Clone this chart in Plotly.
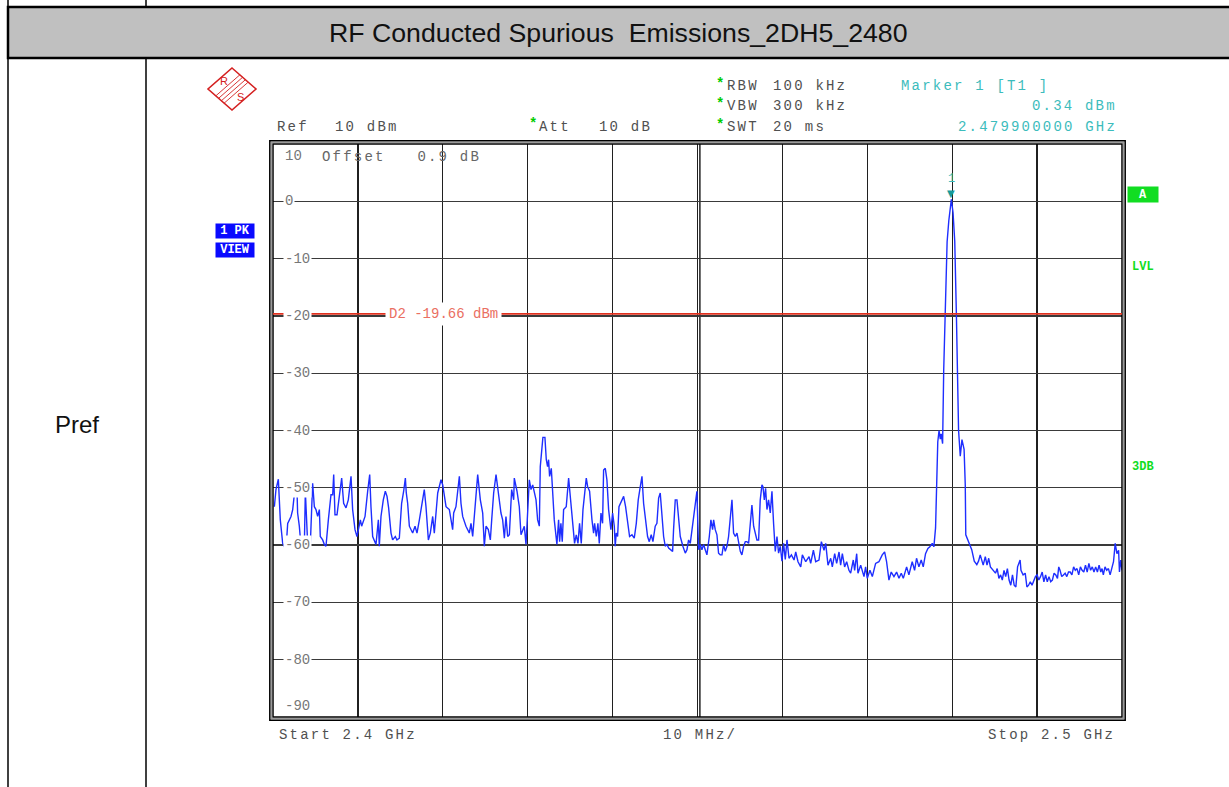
import numpy as np
import plotly.graph_objects as go

# ---------------- data ----------------
# frequency offsets from the start frequency (MHz) and trace levels (dBm)
SEG_A_FREQ = [
    0.16, 0.35, 0.63, 0.86, 1.14, 1.53, 1.73, 2.12, 2.32, 2.51,
    2.83, 2.90, 3.10, 3.30, 3.49, 3.69, 3.81, 4.08, 4.40, 4.67,
    4.87, 5.06, 5.26, 5.46, 5.57, 5.85, 6.05, 6.24, 6.52, 6.83,
    7.03, 7.15, 7.30, 7.54, 7.81, 8.09, 8.32, 8.60, 8.87, 9.19,
    9.38, 9.66, 9.89, 10.05, 10.29, 10.44, 10.68, 10.84, 11.15, 11.39,
    11.54, 11.74, 12.13, 12.41, 12.52, 12.72, 12.99, 13.23, 13.43, 13.62,
    13.90, 14.09, 14.41, 14.60, 14.88, 15.15, 15.39, 15.59, 15.70, 15.86,
    16.06, 16.45, 16.73, 16.96, 17.24, 17.51, 17.82, 18.02, 18.30, 18.53,
    18.81, 19.00, 19.20, 19.40, 19.79, 19.99, 20.38, 20.77, 20.97, 21.16,
    21.28, 21.55, 21.95, 22.14, 22.34, 22.73, 23.12, 23.32, 23.52, 23.79,
    24.11, 24.42, 24.70, 24.89, 25.09, 25.36, 25.60, 25.76, 25.99, 26.27,
    26.58, 26.85, 27.05, 27.25, 27.44, 27.64, 27.84, 28.11, 28.35, 28.42,
    28.74, 29.01, 29.21, 29.41, 29.60, 29.80, 30.00, 30.19, 30.39, 30.59,
    30.98, 31.17, 31.37,
]
SEG_A_LEVEL = [
    -53.3, -50.3, -48.5, -55.6, -59.7, -60.8, -56.2, -55.0, -53.8, -51.2,
    -50.6, -54.4, -56.7, -60.2, -60.5, -60.2, -50.6, -59.7, -59.7, -49.2,
    -53.3, -53.8, -55.0, -53.8, -58.5, -59.1, -59.9, -60.2, -55.6, -51.2,
    -51.2, -47.7, -54.7, -54.7, -51.5, -48.3, -52.7, -53.5, -52.1, -48.0,
    -53.8, -57.3, -58.5, -57.3, -55.6, -56.7, -55.6, -55.0, -50.6, -47.7,
    -53.3, -58.5, -59.9, -55.6, -60.2, -55.0, -52.1, -50.6, -51.5, -53.5,
    -57.9, -59.1, -58.5, -59.1, -58.8, -52.7, -50.6, -48.3, -50.9, -52.7,
    -56.7, -57.9, -56.7, -57.9, -55.6, -52.7, -50.3, -53.3, -59.1, -57.9,
    -55.0, -57.9, -53.8, -50.9, -48.6, -49.5, -53.3, -53.8, -55.6, -57.3,
    -54.4, -53.3, -48.0, -52.7, -55.0, -56.7, -57.9, -56.2, -58.5, -53.3,
    -47.7, -52.1, -54.4, -60.2, -56.7, -57.3, -59.1, -55.6, -50.9, -47.7,
    -51.5, -54.4, -55.6, -58.8, -55.0, -58.5, -58.2, -50.3, -52.1, -48.3,
    -50.6, -53.3, -58.2, -57.3, -56.7, -59.9, -53.3, -48.6, -50.3, -49.5,
    -52.1, -55.6, -56.7,
]
SEG_B_FREQ = [
    31.48, 31.79, 32.03, 32.19, 32.34, 32.46, 32.58, 32.78, 32.89, 33.13,
    33.44, 33.64, 33.76, 33.91, 34.07, 34.23, 34.54, 34.82, 35.09, 35.33,
    35.52, 35.72, 35.92, 36.11, 36.31, 36.51, 36.70, 36.90, 37.06, 37.29,
    37.57, 37.76, 37.88, 38.08, 38.27, 38.43, 38.63, 38.82, 38.94, 39.14,
    39.33, 39.53, 39.80, 40.00, 40.20, 40.31, 40.43, 40.59, 40.75, 40.98,
    41.30, 41.53, 41.77, 42.00, 42.28, 42.55, 42.79, 43.02, 43.26, 43.46,
    43.65, 43.89, 44.12, 44.32, 44.55, 44.75, 45.02, 45.22, 45.42, 45.61,
    45.81, 46.01, 46.20, 46.40, 46.60, 46.87, 47.07, 47.18, 47.38, 47.58,
    47.77, 47.97, 48.28, 48.56, 48.76, 48.95, 49.15, 49.34, 49.54, 49.74,
    49.93, 50.13, 50.33, 50.52, 50.72, 50.91, 51.11, 51.39, 51.58, 51.78,
    51.90, 52.09, 52.29, 52.48, 52.68, 52.88, 53.07, 53.27, 53.47, 53.66,
    53.86, 54.06, 54.25, 54.45, 54.65, 54.84, 55.04, 55.23, 55.43, 55.63,
    55.82, 56.02, 56.22, 56.41, 56.61, 56.80, 57.00, 57.20, 57.39, 57.59,
    57.71, 57.87, 58.02, 58.18, 58.37, 58.57, 58.77, 58.96, 59.16, 59.36,
    59.55, 59.75, 59.95, 60.14, 60.34, 60.54,
]
SEG_B_LEVEL = [
    -46.3, -41.2, -41.2, -45.1, -46.3, -45.1, -48.0, -46.6, -49.8, -55.6,
    -59.9, -55.6, -59.4, -56.2, -59.4, -53.8, -53.3, -48.3, -52.7, -56.2,
    -59.7, -58.2, -59.7, -56.2, -59.7, -53.8, -50.6, -48.3, -49.8, -50.6,
    -55.6, -57.9, -56.2, -58.5, -56.2, -59.7, -54.4, -56.2, -46.9, -46.6,
    -48.6, -53.8, -57.3, -54.4, -56.7, -60.2, -57.9, -58.5, -53.3, -52.4,
    -51.5, -53.3, -56.2, -58.5, -58.2, -58.8, -56.2, -52.1, -49.8, -48.0,
    -52.7, -55.6, -58.5, -59.4, -58.2, -59.4, -56.7, -56.2, -51.8, -50.9,
    -55.6, -58.5, -60.2, -59.9, -60.5, -60.8, -61.1, -57.3, -52.1, -52.1,
    -55.6, -58.5, -60.2, -61.4, -60.8, -59.1, -59.7, -57.3, -54.4, -52.1,
    -50.6, -60.8, -59.9, -60.8, -59.9, -60.8, -61.7, -58.5, -55.6, -57.3,
    -55.6, -57.3, -58.2, -61.4, -61.7, -61.7, -59.9, -61.1, -60.2, -58.5,
    -55.6, -52.1, -57.9, -58.5, -57.9, -59.7, -61.1, -61.7, -60.2, -59.4,
    -59.4, -59.7, -56.7, -53.0, -56.7, -58.2, -59.1, -59.1, -52.1, -49.5,
    -49.8, -52.1, -50.1, -53.8, -52.1, -54.4, -50.6, -56.2, -61.1, -58.5,
    -61.4, -60.2, -62.8, -59.7, -62.5, -59.1,
]
SEG_C_FREQ = [
    60.78, 61.06, 61.37, 61.57, 61.84, 62.16, 62.35, 62.75, 63.14, 63.33,
    63.65, 63.92, 64.31, 64.59, 64.90, 65.10, 65.37, 65.69, 65.88, 66.16,
    66.39, 66.67, 66.86, 67.06, 67.33, 67.57, 67.84, 68.04, 68.35, 68.51,
    68.75, 68.90, 69.22, 69.61, 69.80, 70.00, 70.31, 70.59, 70.98, 71.37,
    71.76, 72.04, 72.27, 72.55, 72.82, 73.14, 73.45, 73.73, 74.00, 74.24,
    74.63, 74.90, 75.29, 75.57, 75.80, 76.08, 76.35, 76.59, 76.86, 77.14,
    77.37, 77.65, 77.84, 78.04,
]
SEG_C_LEVEL = [
    -62.3, -61.7, -62.6, -61.2, -62.9, -63.8, -61.7, -62.9, -62.0, -63.2,
    -60.9, -62.9, -62.6, -59.4, -60.9, -59.7, -63.5, -62.3, -63.8, -61.5,
    -63.2, -61.2, -63.5, -61.5, -63.8, -62.9, -64.4, -64.9, -62.6, -64.4,
    -61.5, -64.9, -63.5, -65.5, -63.8, -65.8, -64.4, -65.5, -63.2, -62.9,
    -61.7, -61.2, -62.9, -66.1, -64.7, -65.5, -64.7, -65.8, -64.9, -65.8,
    -63.8, -65.2, -62.9, -64.4, -62.3, -63.8, -62.6, -63.8, -61.5, -60.6,
    -60.3, -59.7, -60.3, -57.0,
]
SEG_D_FREQ = [
    78.20, 78.30, 78.45, 78.60, 78.70, 78.87, 79.00, 79.20, 79.40, 79.60,
    79.90, 80.10, 80.30, 80.50, 80.65, 80.75, 80.95, 81.15, 81.40, 81.54,
    81.60, 81.90, 82.30, 82.60,
]
SEG_D_LEVEL = [
    -50.1, -42.0, -40.0, -41.5, -40.6, -42.3, -29.5, -16.1, -7.1, -3.4,
    0.34, -2.0, -7.0, -20.2, -29.5, -40.0, -44.5, -41.6, -43.3, -49.5,
    -58.2, -59.3, -60.8, -62.8,
]
SEG_E_FREQ = [
    82.90, 83.10, 83.30, 83.65, 83.90, 84.10, 84.30, 84.50, 84.80, 85.10,
    85.30, 85.50, 85.70, 85.90, 86.10, 86.30, 86.50, 86.70, 86.90, 87.10,
    87.30, 87.50, 87.70, 88.00, 88.10, 88.35, 88.60, 88.80, 89.00, 89.20,
    89.40, 89.60, 89.80, 90.00, 90.20, 90.40, 90.60, 90.80, 91.00, 91.20,
    91.40, 91.60, 91.80, 92.00, 92.20, 92.40, 92.55, 92.70, 92.90, 93.10,
    93.30, 93.50, 93.70, 93.90, 94.10, 94.30, 94.50, 94.70, 94.90, 95.10,
    95.30, 95.50, 95.70, 95.90, 96.10, 96.30, 96.50, 96.70, 96.90, 97.10,
    97.30, 97.50, 97.65, 97.80, 98.00, 98.20, 98.40, 98.60, 98.80, 99.00,
    99.20, 99.40, 99.60, 99.70, 99.85, 100.00,
]
SEG_E_LEVEL = [
    -63.4, -62.8, -61.7, -63.5, -62.0, -63.5, -62.3, -63.8, -64.4, -64.9,
    -64.1, -65.8, -65.2, -66.1, -64.4, -65.5, -64.1, -66.1, -67.0, -65.2,
    -67.0, -67.3, -63.8, -62.6, -64.4, -65.2, -64.9, -67.3, -67.0, -66.4,
    -67.0, -66.1, -65.5, -65.2, -66.1, -65.5, -64.7, -66.4, -65.2, -66.4,
    -65.5, -66.4, -66.1, -64.9, -65.2, -65.8, -63.8, -64.4, -65.5, -65.2,
    -64.9, -65.5, -64.7, -64.7, -65.2, -63.8, -64.4, -64.1, -65.2, -63.8,
    -64.4, -64.7, -63.5, -64.7, -63.2, -64.4, -63.8, -64.7, -63.8, -64.7,
    -63.5, -64.7, -64.1, -65.2, -63.8, -64.4, -64.1, -65.2, -63.8, -62.9,
    -59.7, -61.5, -60.9, -64.7, -62.6, -64.4,
]

START_GHZ = 2.4
STOP_GHZ = 2.5
REF_LEVEL_DBM = 10
BOTTOM_LEVEL_DBM = -90
Y_TICK_VALUES = [10, 0, -10, -20, -30, -40, -50, -60, -70, -80, -90]
Y_TICK_LABELS = ["10", "0", "-10", "-20", "-30", "-40", "-50", "-60", "-70", "-80", "-90"]
D2_LEVEL_DBM = -19.66
MARKER_FREQ_GHZ = 2.4799
MARKER_LEVEL_DBM = 0.34

TITLE = "RF Conducted Spurious\u00a0 Emissions_2DH5_2480"

# ---------------- layout helpers ----------------
W, H = 1229, 787
L, R, T, B = 273, 1122, 144, 717
MONO = "Liberation Mono, Courier New, monospace"
SANS = "Liberation Sans, Arial, sans-serif"
GRAY_TXT = "#505050"
TICK_TXT = "#777777"
TEAL = "#3cbcbc"
GREEN = "#11dd22"


def px(x):
    return (x - L) / (R - L)


def py(y):
    return (B - y) / (B - T)


annotations = []
shapes = []


def text(x, y, s, color, size=14, anchor="left", family=MONO, spacing=None,
         bold=False, bg=None, xref="paper", yref="paper", yshift=0,
         width=None, height=None, borderpad=1):
    t = s.replace(" ", "\u00a0")
    if bold:
        t = "<b>" + t + "</b>"
    if spacing:
        t = '<span style="letter-spacing:%.1fpx">%s</span>' % (spacing, t)
    a = dict(x=x, y=y, xref=xref, yref=yref, text=t, showarrow=False,
             xanchor=anchor, yanchor="middle",
             font=dict(family=family, size=size, color=color),
             yshift=yshift, borderpad=borderpad)
    if bg:
        a["bgcolor"] = bg
    if width:
        a["width"] = width
    if height:
        a["height"] = height
    annotations.append(a)


def hdr(xp, yp, s, color=GRAY_TXT, anchor="left"):
    text(px(xp), py(yp), s, color, size=14, anchor=anchor, spacing=2.2)


def star(xp, yp):
    text(px(xp), py(yp), "*", "#00cc00", size=14, bold=True)


def seg(x0, y0, x1, y1, color="black", width=1.5, layer="above"):
    shapes.append(dict(type="line", xref="paper", yref="paper",
                       x0=px(x0), y0=py(y0), x1=px(x1), y1=py(y1),
                       line=dict(color=color, width=width), layer=layer))


# ---------------- figure ----------------
freq_ghz = START_GHZ + np.array(SEG_A_FREQ + SEG_B_FREQ + SEG_C_FREQ + SEG_D_FREQ + SEG_E_FREQ) / 1000.0
level = np.array(SEG_A_LEVEL + SEG_B_LEVEL + SEG_C_LEVEL + SEG_D_LEVEL + SEG_E_LEVEL)

fig = go.Figure()
fig.add_trace(go.Scatter(x=freq_ghz, y=level, mode="lines",
                         line=dict(color="#1e2eff", width=1.4),
                         hoverinfo="skip"))

# table decoration: title bar, borders
shapes.append(dict(type="rect", xref="paper", yref="paper",
                   x0=px(8), x1=px(1240), y0=py(7), y1=py(58),
                   fillcolor="#c0c0c0", line=dict(color="black", width=2.5),
                   layer="below"))
seg(8, 0, 8, 787, width=1.5)
seg(146, 0, 146, 7, width=1.5)
seg(146, 58, 146, 787, width=1.5)
text(px(618.5), py(33), TITLE, "#111111", size=26.7, anchor="center", family=SANS)
text(px(77), py(424), "Pref", "#111111", size=24, anchor="center", family=SANS)

# plot frame (double line)
dx, dy = 1.0 / (R - L), 1.0 / (B - T)
for off, col, wd in [(0, "black", 1.5), (1.6, "#9a9a9a", 1.4), (3.2, "black", 1.5)]:
    shapes.append(dict(type="rect", xref="paper", yref="paper",
                       x0=-off * dx, x1=1 + off * dx, y0=-off * dy, y1=1 + off * dy,
                       line=dict(color=col, width=wd), layer="above"))
# doubled centre line
shapes.append(dict(type="line", xref="paper", yref="paper",
                   x0=0.5 + 2.4 * dx, x1=0.5 + 2.4 * dx, y0=0, y1=1,
                   line=dict(color="black", width=1.3), layer="below"))

# display line D2
shapes.append(dict(type="line", xref="paper", yref="y", x0=0, x1=1,
                   y0=D2_LEVEL_DBM, y1=D2_LEVEL_DBM,
                   line=dict(color="#e0301e", width=1.8), layer="above"))
text(px(385), D2_LEVEL_DBM, "D2 -%.2f dBm" % abs(D2_LEVEL_DBM), "#ea6f62",
     size=14, bg="white", yref="y", borderpad=3)

# y tick labels inside the grid
for v, lab in zip(Y_TICK_VALUES, Y_TICK_LABELS):
    shift = -12 if v == REF_LEVEL_DBM else (11 if v == BOTTOM_LEVEL_DBM else 0)
    text(px(283), v, lab, TICK_TXT, size=14, yref="y", yshift=shift,
         bg=None if v in (REF_LEVEL_DBM, BOTTOM_LEVEL_DBM) else "white")

# header texts
hdr(320, 157, "Offset   0.9 dB", color="#666666")
hdr(275, 127, "Ref")
hdr(333, 127, "10 dBm")
star(527, 124)
hdr(537, 127, "Att")
hdr(597, 127, "10 dB")
star(714, 84)
hdr(725, 86, "RBW")
hdr(771, 86, "100 kHz")
star(714, 104)
hdr(725, 106, "VBW")
hdr(771, 106, "300 kHz")
star(714, 125)
hdr(725, 127, "SWT")
hdr(771, 127, "20 ms")
hdr(899, 86, "Marker 1 [T1 ]", color=TEAL)
hdr(1119, 106, "%.2f dBm" % MARKER_LEVEL_DBM, color=TEAL, anchor="right")
hdr(1119, 127, "%.9f GHz" % MARKER_FREQ_GHZ, color=TEAL, anchor="right")
hdr(277, 735, "Start %.1f GHz" % START_GHZ)
hdr(661, 735, "%d MHz/" % round((STOP_GHZ - START_GHZ) * 100))
hdr(1117, 735, "Stop %.1f GHz" % STOP_GHZ, anchor="right")

# side boxes
text(px(234.5), py(231), "1 PK", "white", size=12, anchor="center", bold=True,
     bg="#0a0aff", width=38, height=14, borderpad=0)
text(px(234.5), py(250), "VIEW", "white", size=12, anchor="center", bold=True,
     bg="#0a0aff", width=38, height=14, borderpad=0)
text(px(1142.5), py(194.5), "A", "white", size=12, anchor="center", bold=True,
     bg=GREEN, width=30, height=15, borderpad=0)
text(px(1143), py(267), "LVL", GREEN, size=12, anchor="center", bold=True)
text(px(1143), py(467), "3DB", GREEN, size=12, anchor="center", bold=True)

# marker
text(MARKER_FREQ_GHZ, MARKER_LEVEL_DBM, "\u25BC", "#169a9a", size=10, anchor="center",
     family="DejaVu Sans", xref="x", yref="y", yshift=6)
text(MARKER_FREQ_GHZ, MARKER_LEVEL_DBM, "1", TEAL, size=12, anchor="center",
     xref="x", yref="y", yshift=20)

# R&S logo
cx, cy, hw, hh = 232, 89, 24, 21
logo_red = "#d42020"
path = "M %f %f L %f %f L %f %f L %f %f Z" % (
    px(cx), py(cy - hh), px(cx + hw), py(cy), px(cx), py(cy + hh), px(cx - hw), py(cy))
shapes.append(dict(type="path", xref="paper", yref="paper", path=path,
                   line=dict(color=logo_red, width=1.6), layer="above"))
for k in (-3, -1, 1, 3):
    o = k * 1.3
    seg(cx - hw / 2 + o, cy + hh / 2 + o, cx + hw / 2 + o, cy - hh / 2 + o,
        color=logo_red, width=0.9)
text(px(cx - 8), py(cy - 8), "R", logo_red, size=11, anchor="center", family=SANS)
text(px(cx + 8), py(cy + 8), "S", logo_red, size=11, anchor="center", family=SANS)

fig.update_layout(
    width=W, height=H, autosize=False,
    margin=dict(l=L, r=W - R, t=T, b=H - B, pad=0),
    paper_bgcolor="white", plot_bgcolor="white",
    showlegend=False, hovermode=False,
    xaxis=dict(range=[START_GHZ, STOP_GHZ], tick0=START_GHZ, dtick=0.01,
               showgrid=True, gridcolor="#202020", gridwidth=1.3,
               showticklabels=False, ticks="", zeroline=False, showline=False,
               fixedrange=True),
    yaxis=dict(range=[BOTTOM_LEVEL_DBM, REF_LEVEL_DBM], tick0=0, dtick=10,
               showgrid=True, gridcolor="#3a3a3a", gridwidth=1.3,
               showticklabels=False, ticks="", zeroline=False, showline=False,
               fixedrange=True),
    shapes=shapes,
    annotations=annotations,
)

fig.write_html("out.html", config={"displayModeBar": False, "staticPlot": True},
               post_script="document.body.style.margin='0';document.body.style.overflow='hidden';")
